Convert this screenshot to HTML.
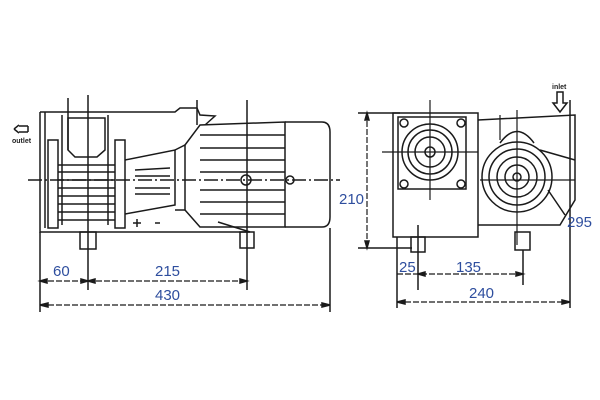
<!DOCTYPE html>
<html><head><style>
html,body{margin:0;padding:0;background:#fff;width:600px;height:400px;overflow:hidden}
svg{display:block}
text{font-family:"Liberation Sans",sans-serif;fill:#2e4e9e;font-size:15px}
</style></head><body>
<svg width="600" height="400" viewBox="0 0 600 400" xmlns="http://www.w3.org/2000/svg">
<g fill="none" stroke="#1a1a1a" stroke-width="1.5">
<path d="M40 112 L175 112 L180 108 L197 108 L200 115 L215 116 L205 125"/>
<path d="M40 112 L40 232 L250 232 L218 222"/>
<path d="M45 112 L45 228"/>
<rect x="48" y="140" width="10" height="88"/>
<rect x="115" y="140" width="10" height="88"/>
<path d="M68 118 L105 118 L105 150 L97 157 L75 157 L68 150 Z"/>
<path d="M62 115 L62 225 M108 115 L108 225"/>
<path d="M58 165 L115 165 M58 172 L115 172 M58 180 L115 180 M58 188 L115 188 M58 196 L115 196 M58 204 L115 204 M58 212 L115 212 M58 220 L115 220"/>
<path d="M125 160 L175 150 L175 205 L125 214"/>
<path d="M135 170 L170 168 M135 176 L170 176 M135 188 L170 188 M135 194 L170 194"/>
<path d="M175 150 L185 145 L185 210 L175 210"/>
<path d="M185 145 L200 125 L285 122 L285 227 L200 227 L185 210"/>
<path d="M200 135 L285 135 M200 148 L285 148 M200 160 L285 160 M200 172 L285 172 M200 190 L285 190 M200 202 L285 202 M200 214 L285 214"/>
<path d="M285 122 L322 122 Q330 122 330 132 L330 217 Q330 227 322 227 L285 227"/>
<circle cx="246" cy="180" r="5"/><circle cx="290" cy="180" r="4"/>
<path d="M133 223 l8 0 M137 219 l0 8 M155 223 l5 0"/>
<rect x="80" y="232" width="16" height="17"/>
<rect x="240" y="232" width="14" height="16"/>
<path d="M28 180 L340 180" stroke-dasharray="14 3 2 3"/>
<path d="M88 95 L88 290 M68 98 L68 150 M247 100 L247 290 M197 100 L197 125"/>
<path d="M14 129 l5 -4 M14 129 l5 4 M19 126 L28 126 M19 132 L28 132 M28 126 L28 132"/>
<path d="M40 232 L40 312 M330 228 L330 312"/>
<path d="M40 281 L247 281 M40 305 L330 305" stroke-width="1.2" stroke-dasharray="6 2"/>
<path d="M40 281 l7 -2 l0 4 Z M88 281 l-7 -2 l0 4 Z M88 281 l7 -2 l0 4 Z M247 281 l-7 -2 l0 4 Z M40 305 l8 -2 l0 4 Z M330 305 l-8 -2 l0 4 Z" fill="#1a1a1a"/>

<path d="M393 113 L478 113 L478 237 L393 237 Z"/>
<rect x="398" y="117" width="68" height="72"/>
<circle cx="430" cy="152" r="28"/><circle cx="430" cy="152" r="22"/><circle cx="430" cy="152" r="15"/><circle cx="430" cy="152" r="5"/>
<circle cx="404" cy="123" r="4"/><circle cx="461" cy="123" r="4"/><circle cx="404" cy="184" r="4"/><circle cx="461" cy="184" r="4"/>
<path d="M382 152 L478 152 M430 100 L430 200" stroke-width="1.2"/>
<path d="M478 120 L575 115 L575 200 L560 225 L478 225"/>
<circle cx="517" cy="177" r="35"/><circle cx="517" cy="177" r="28"/><circle cx="517" cy="177" r="20"/><circle cx="517" cy="177" r="12"/><circle cx="517" cy="177" r="4"/>
<path d="M500 143 Q517 120 534 143"/>
<path d="M540 150 L575 160 M548 190 L565 215"/>
<path d="M480 180 L575 180 M517 110 L517 245 M500 115 L500 140" stroke-width="1.2"/>
<rect x="411" y="237" width="14" height="15"/>
<rect x="515" y="232" width="15" height="18"/>
<path d="M557 92 L557 103 L553 103 L560 112 L567 103 L563 103 L563 92 Z"/>
<path d="M358 113 L400 113 M358 248 L412 248"/>
<path d="M367 113 L367 248" stroke-dasharray="6 2" stroke-width="1.2"/>
<path d="M367 113 l-2 7 l4 0 Z M367 248 l-2 -7 l4 0 Z" fill="#1a1a1a"/>
<path d="M570 100 L570 308"/>
<path d="M397 237 L397 308 M418 225 L418 290 M523 250 L523 285"/>
<path d="M397 274 L523 274 M397 302 L570 302" stroke-dasharray="6 2" stroke-width="1.2"/>
<path d="M418 274 l7 -2 l0 4 Z M523 274 l-7 -2 l0 4 Z M397 302 l8 -2 l0 4 Z M570 302 l-8 -2 l0 4 Z" fill="#1a1a1a"/>
</g>
<text x="12" y="143" style="font-size:7px;fill:#222;font-weight:bold">outlet</text>
<text x="552" y="89" style="font-size:7px;fill:#222;font-weight:bold">inlet</text>
<text x="53" y="276">60</text>
<text x="155" y="276">215</text>
<text x="155" y="300">430</text>
<text x="339" y="204">210</text>
<text x="567" y="227">295</text>
<text x="399" y="272">25</text>
<text x="456" y="272">135</text>
<text x="469" y="298">240</text>
</svg>
</body></html>
